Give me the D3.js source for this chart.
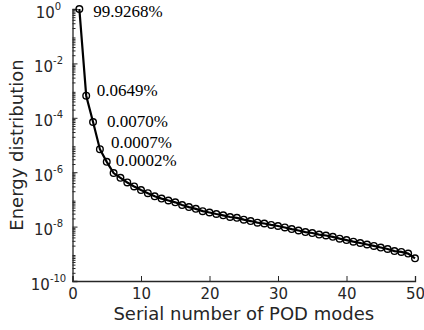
<!DOCTYPE html>
<html>
<head>
<meta charset="utf-8">
<script src="https://cdn.jsdelivr.net/npm/d3@7"></script>
<style>
  html, body { margin: 0; padding: 0; background: #fff; }
  svg text { font-family: "DejaVu Sans", sans-serif; fill: #262626; }
  .pct { font-family: "Liberation Serif", "Times New Roman", serif; fill: #000; }
</style>
</head>
<body>
<svg id="chart" width="424" height="330"></svg>
<script>
// ==== data ====
const modes = d3.range(1, 51);
const energy = [
  0.999268, 6.49e-4, 7.0e-5, 7.0e-6, 2.4e-6,
  9.3e-7, 6.2e-7, 4.2e-7, 3.0e-7, 2.2e-7,
  1.7e-7, 1.3e-7, 1.07e-7, 9.1e-8, 7.8e-8,
  6.2e-8, 5.2e-8, 4.5e-8, 3.7e-8, 3.3e-8,
  2.9e-8, 2.6e-8, 2.25e-8, 2.1e-8, 1.8e-8,
  1.6e-8, 1.4e-8, 1.3e-8, 1.15e-8, 1.05e-8,
  9.3e-9, 8.1e-9, 7.2e-9, 6.3e-9, 5.8e-9,
  5.1e-9, 4.7e-9, 4.2e-9, 3.6e-9, 3.2e-9,
  2.8e-9, 2.5e-9, 2.2e-9, 1.95e-9, 1.7e-9,
  1.5e-9, 1.26e-9, 1.17e-9, 1.02e-9, 6.8e-10
];
const pctLabels = ["99.9268%", "0.0649%", "0.0070%", "0.0007%", "0.0002%"];
const xTicks = [0, 10, 20, 30, 40, 50];
const yExponents = [0, -2, -4, -6, -8, -10];

// label offsets from their point (layout only)
const pctOffsets = [[14, 8], [10.5, 0.5], [14, 5], [11, -1.5], [9, 4]];

// ==== layout ====
const svg = d3.select("#chart");
const x = d3.scaleLinear().domain([0, 50]).range([72.5, 415]);
const y = d3.scaleLog().domain([1e-10, 1]).range([281, 9]);

// x axis
const xAxis = svg.append("g")
  .attr("transform", "translate(0," + y.range()[0] + ")")
  .call(d3.axisBottom(x).tickValues(xTicks).tickSize(-5).tickPadding(7).tickFormat(d3.format("d")));
xAxis.selectAll("text").style("font-size", "15px").style("font-family", "DejaVu Sans");

// y axis major
const yAxis = svg.append("g")
  .attr("transform", "translate(" + x.range()[0] + ",0)")
  .call(d3.axisLeft(y).tickValues(yExponents.map(e => Math.pow(10, e))).tickSize(-5).tickFormat(""));

// y axis minor ticks
const minor = [];
for (let e = -10; e < 0; e++) for (let k = 2; k <= 9; k++) minor.push(k * Math.pow(10, e));
svg.append("g")
  .attr("transform", "translate(" + x.range()[0] + ",0)")
  .call(d3.axisLeft(y).tickValues(minor).tickSize(-3).tickFormat(""))
  .select(".domain").remove();

svg.selectAll(".domain").attr("stroke", "#262626").attr("stroke-width", 1.3);
svg.selectAll(".tick line").attr("stroke", "#262626").attr("stroke-width", 1);

// y tick labels as 10^n
const yl = svg.append("g").selectAll("text")
  .data(yExponents)
  .enter()
  .append("text")
  .attr("x", x.range()[0] - 24)
  .attr("y", d => y(Math.pow(10, d)) + 8.5)
  .attr("text-anchor", "middle")
  .style("font-size", "15px");
yl.append("tspan").text("10");
yl.append("tspan").attr("dy", -8).style("font-size", "10px").text(d => d);

// axis titles
svg.append("text")
  .attr("x", (x.range()[0] + x.range()[1]) / 2)
  .attr("y", 320)
  .attr("text-anchor", "middle")
  .style("font-size", "18px")
  .text("Serial number of POD modes");

svg.append("text")
  .attr("transform", "translate(23," + (y.range()[0] + y.range()[1]) / 2 + ") rotate(-90)")
  .attr("text-anchor", "middle")
  .style("font-size", "18px")
  .text("Energy distribution");

// line + markers
const line = d3.line().x((d, i) => x(modes[i])).y(d => y(d));
svg.append("path")
  .datum(energy)
  .attr("d", line)
  .attr("fill", "none")
  .attr("stroke", "#000")
  .attr("stroke-width", 2.2);

svg.append("g").selectAll("circle")
  .data(energy)
  .enter()
  .append("circle")
  .attr("cx", (d, i) => x(modes[i]))
  .attr("cy", d => y(d))
  .attr("r", 3.3)
  .attr("fill", "none")
  .attr("stroke", "#000")
  .attr("stroke-width", 1.4);

// percentage labels
svg.append("g").selectAll("text")
  .data(pctLabels)
  .enter()
  .append("text")
  .attr("class", "pct")
  .attr("x", (d, i) => x(modes[i]) + pctOffsets[i][0])
  .attr("y", (d, i) => y(energy[i]) + pctOffsets[i][1])
  .style("font-size", "17px")
  .text(d => d);
</script>
</body>
</html>
